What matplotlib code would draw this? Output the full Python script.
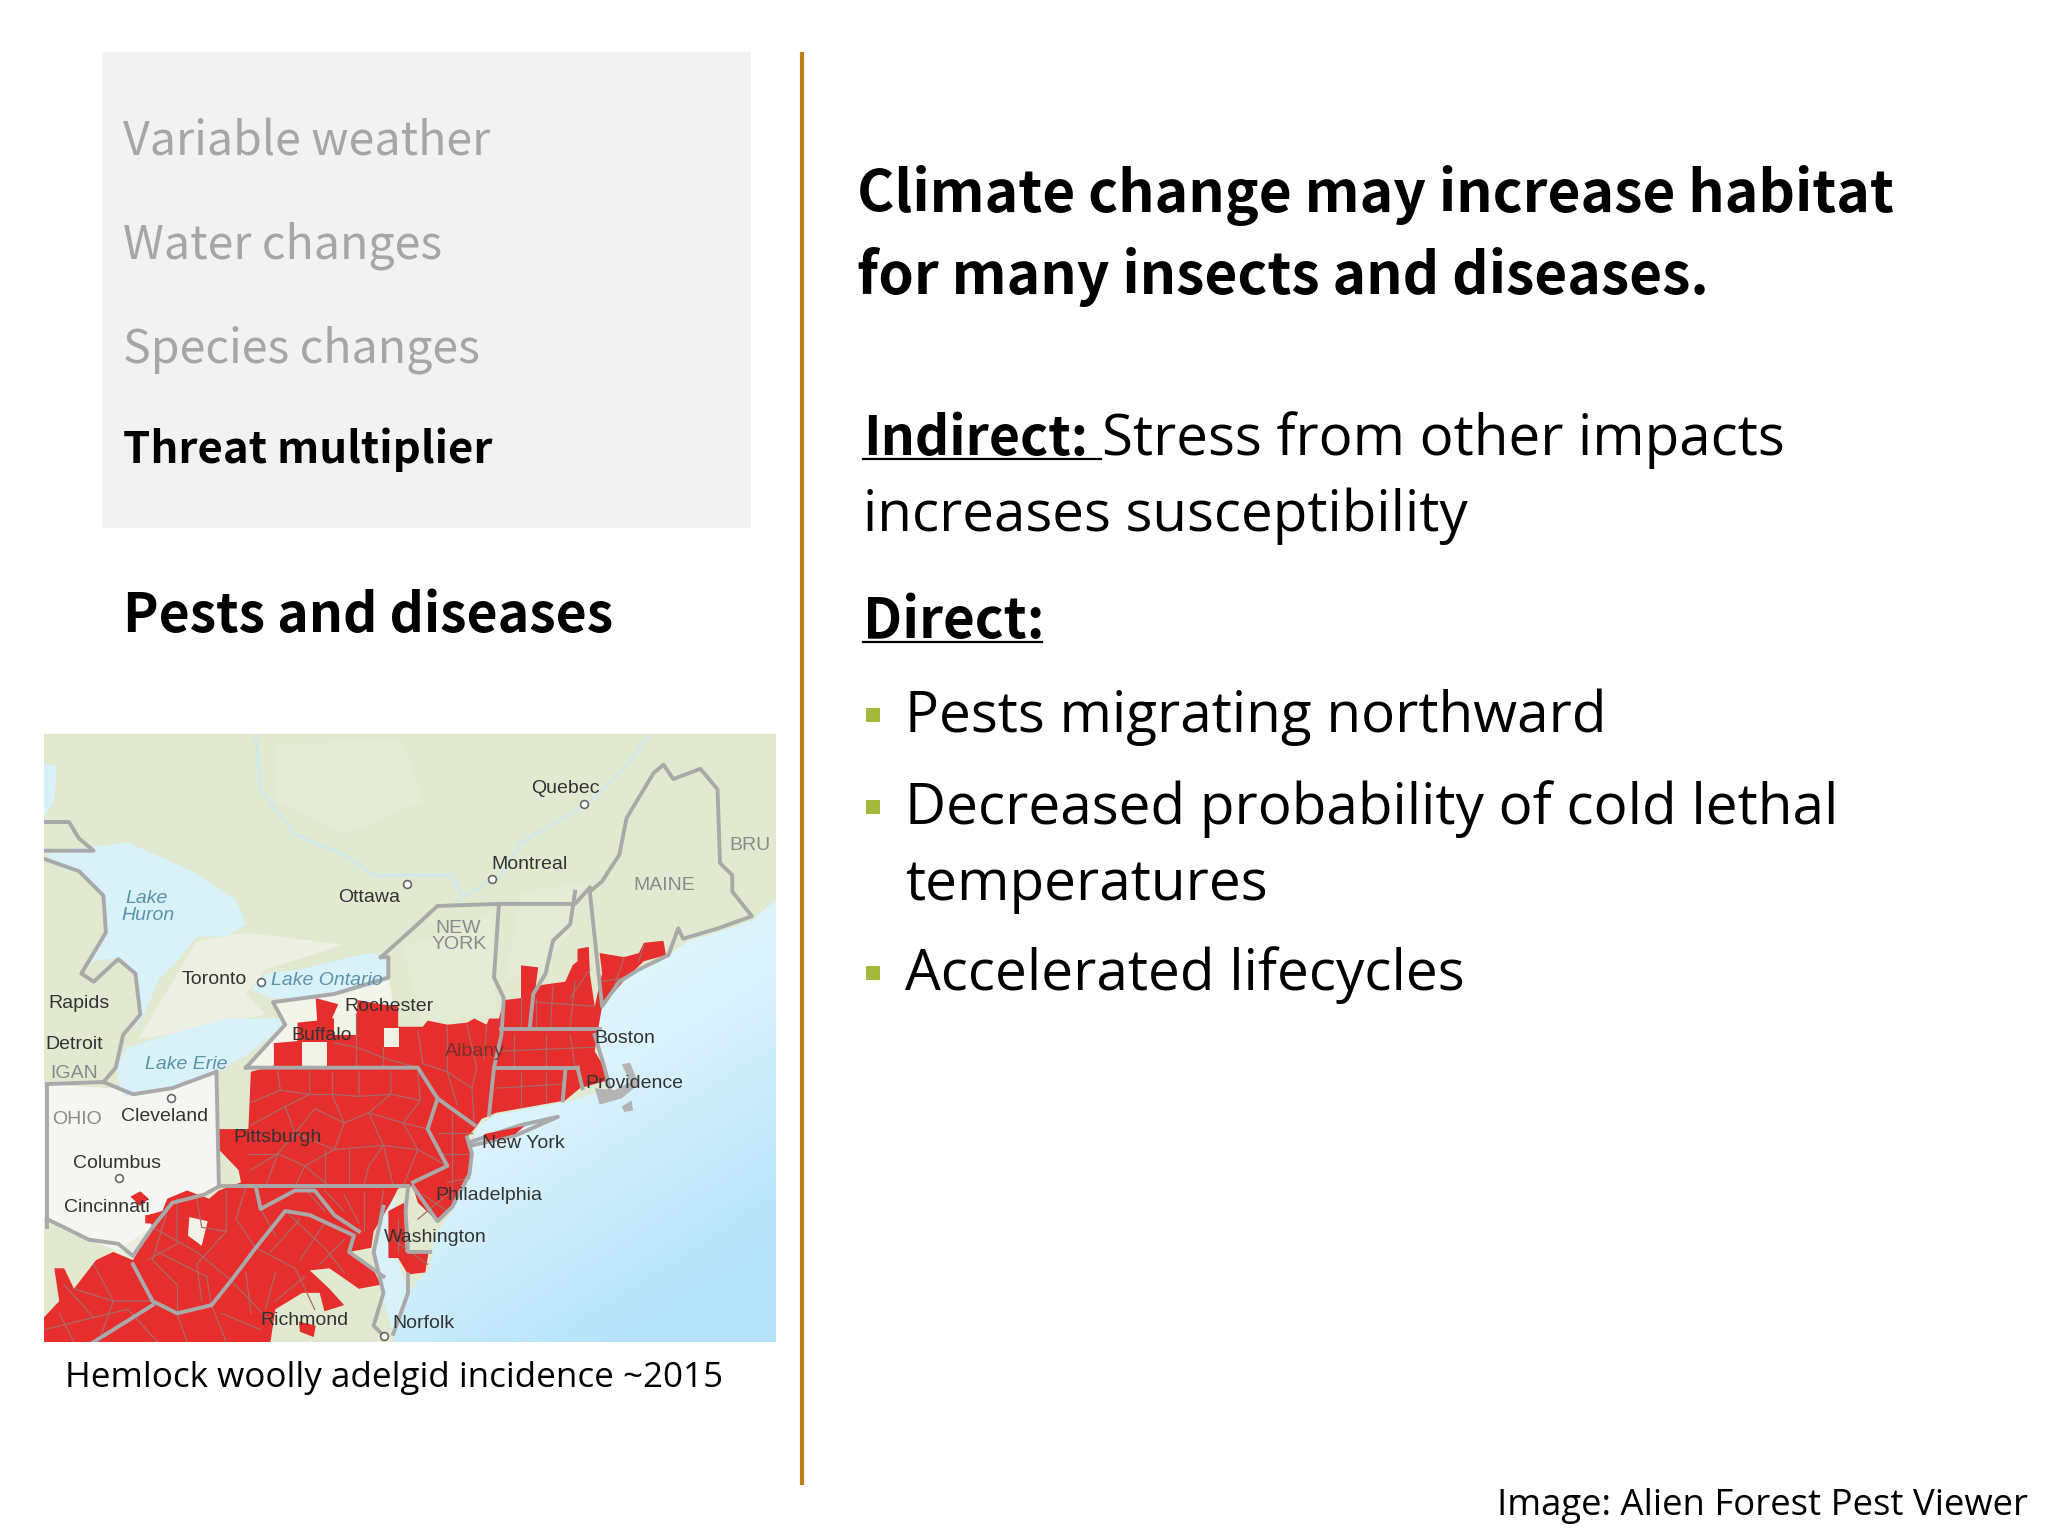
import numpy as np
import matplotlib
matplotlib.use("Agg")
import matplotlib.pyplot as plt
from matplotlib.colors import LinearSegmentedColormap
from matplotlib.patches import Polygon, Rectangle

BODY_FONT = "Open Sans"
BOLD_FONT = "Noto Sans CJK JP"
PANEL_FONT = "Noto Sans CJK JP"
MAP_FONT = "Liberation Sans"

# left panel text: label, baseline
panel_labels = ["Variable weather", "Water changes", "Species changes", "Threat multiplier"]
panel_baselines = [155, 259, 362, 463]
panel_colors = ["#a6a6a6", "#a6a6a6", "#a6a6a6", "#000000"]
bullet_baselines = [732, 824, 990]
bullet_centres = [715, 807, 973]
bullet_labels = ["Pests migrating northward", "Decreased probability of cold lethal", "Accelerated lifecycles"]

# map shapes, in pixels of the zoomed map crop
ocean = [(1519, 440), (1470, 490), (1400, 520), (1340, 540), (1300, 575), (1240, 605), (1190, 650), (1165, 700),
         (1150, 770), (1170, 850), (1180, 900), (1090, 935), (950, 965), (915, 990), (900, 1030), (900, 1060),
         (895, 1120), (860, 1200), (825, 1260), (815, 1340), (770, 1400), (740, 1520), (1519, 1520)]
chesapeake = [(720, 1190), (745, 1170), (735, 1260), (770, 1400), (740, 1500), (715, 1400), (700, 1300)]
huron = [(40, 320), (130, 310), (200, 300), (330, 370), (420, 440), (440, 500), (400, 530), (340, 530), (300, 590),
         (260, 640), (240, 700), (215, 760), (222, 700), (215, 620), (185, 580), (130, 590), (105, 620), (155, 520),
         (150, 430), (110, 380), (40, 350)]
michigan_lake = [(29, 110), (55, 110), (50, 200), (29, 240)]
ontario_lake = [(490, 680), (450, 660), (480, 620), (550, 610), (650, 580), (700, 570), (725, 590), (725, 640),
                (640, 670), (560, 680)]
erie = [(175, 850), (200, 800), (280, 770), (400, 730), (510, 730), (520, 745), (440, 820), (380, 860), (280, 905),
        (190, 920)]
long_island = [(900, 1030), (1000, 990), (1075, 970), (990, 1015), (900, 1040)]
pale_land_1 = [(160, 900), (380, 860), (385, 1140), (355, 1160), (250, 1240), (210, 1310), (120, 1270), (29, 1220), (29, 890)]
pale_land_2 = [(260, 700), (340, 540), (440, 520), (640, 550), (480, 610), (440, 670), (480, 720), (280, 770), (220, 780)]
pale_land_3 = [(440, 850), (520, 745), (495, 695), (620, 670), (730, 630), (750, 760), (790, 850)]
pale_land_4 = [(160, 1310), (250, 1240), (240, 1400), (150, 1330)]
light_patches = [[(500, 60), (760, 50), (800, 200), (640, 280), (500, 200)],
                 [(1000, 420), (1130, 400), (1100, 520), (1040, 600), (970, 640)],
                 [(760, 560), (940, 470), (950, 720), (800, 740)]]
st_lawrence = [(870, 440), (960, 380), (1000, 300), (1130, 210), (1210, 120), (1260, 40)]
ottawa_river = [(460, 40), (470, 170), (540, 280), (640, 330), (700, 380), (860, 380), (880, 430)]

red_main = [(497, 845), (497, 790), (545, 785), (545, 740), (585, 735), (582, 680), (628, 695), (615, 730), (665, 720),
            (668, 685), (715, 695), (750, 700), (750, 750), (800, 750), (810, 735), (850, 745), (890, 740), (905, 730),
            (930, 745), (935, 730), (955, 730), (965, 685), (1000, 680), (1000, 600), (1035, 605), (1030, 650),
            (1090, 640), (1105, 600), (1115, 590), (1115, 560), (1138, 555), (1140, 620), (1150, 700), (1165, 620),
            (1160, 570), (1210, 580), (1240, 570), (1250, 545), (1290, 540), (1295, 575), (1250, 590), (1215, 630),
            (1165, 700), (1155, 770), (1150, 810), (1175, 860), (1180, 880), (1120, 900), (1090, 930), (950, 960),
            (920, 975), (905, 1000), (890, 1020), (900, 1060), (895, 1110), (860, 1190), (830, 1225), (790, 1180),
            (780, 1140), (750, 1145), (735, 1180), (700, 1250), (695, 1290), (650, 1300), (700, 1345), (715, 1380),
            (670, 1390), (610, 1340), (570, 1345), (610, 1390), (640, 1430), (600, 1445), (590, 1400), (555, 1400),
            (500, 1440), (490, 1520), (29, 1520), (29, 1460), (60, 1420), (50, 1340), (70, 1340), (90, 1390),
            (135, 1320), (170, 1300), (210, 1320), (250, 1240), (240, 1210), (270, 1200), (280, 1170), (320, 1150),
            (365, 1170), (385, 1150), (430, 1130), (425, 1100), (385, 1050), (385, 1000), (445, 1000), (450, 860)]
red_extra = [[(205, 1165), (225, 1152), (242, 1170), (225, 1188)],
             [(235, 1210), (270, 1210), (265, 1232), (235, 1230)],
             [(548, 1470), (582, 1480), (578, 1508), (550, 1495)],
             [(730, 1200), (762, 1180), (765, 1300), (812, 1300), (805, 1350), (770, 1355), (750, 1315), (730, 1315)]]
long_island_red = [(925, 1012), (1008, 992), (988, 1012), (930, 1030)]
land_holes = [[(555, 788), (605, 788), (605, 850), (555, 850)],
              [(620, 722), (665, 722), (665, 770), (620, 770)],
              [(722, 752), (752, 752), (752, 800), (722, 800)],
              [(325, 1215), (362, 1225), (350, 1285), (322, 1260)]]
cape_cod = [(1150, 900), (1190, 905), (1222, 885), (1205, 842), (1222, 838), (1240, 890), (1205, 925), (1160, 940)]
nantucket = [(1205, 945), (1225, 930), (1228, 955), (1210, 958)]

state_lines = [
    [(1140, 420), (1165, 395), (1200, 330), (1215, 240), (1270, 130), (1290, 110), (1310, 145), (1365, 120),
     (1400, 170), (1405, 350), (1430, 380), (1430, 420), (1470, 480), (1400, 510), (1330, 535), (1320, 510),
     (1300, 575), (1240, 610), (1200, 640), (1165, 700), (1140, 420)],
    [(1110, 420), (1100, 500), (1065, 540), (1050, 620), (1025, 670), (1018, 750)],
    [(715, 580), (780, 510), (830, 455), (955, 450), (1110, 450), (1140, 410)],
    [(955, 450), (945, 630), (965, 680), (960, 770), (945, 850), (935, 965)],
    [(960, 755), (1160, 755)], [(945, 850), (1115, 850)], [(1090, 860), (1085, 930)], [(1115, 850), (1125, 900)],
    [(440, 850), (790, 850), (830, 925), (905, 990)],
    [(830, 925), (810, 1000), (850, 1090), (780, 1130)],
    [(385, 1140), (770, 1140)], [(380, 860), (385, 1140)],
    [(440, 850), (520, 745), (495, 690), (620, 670), (730, 630), (730, 580), (715, 580)],
    [(35, 890), (35, 1240)], [(35, 890), (150, 885), (210, 915), (290, 900), (380, 860)],
    [(385, 1140), (355, 1160), (290, 1180), (250, 1240), (210, 1310), (180, 1280), (120, 1270), (70, 1240), (35, 1220)],
    [(210, 1330), (250, 1420), (300, 1450), (370, 1430), (410, 1370), (460, 1290), (520, 1200), (570, 1210),
     (660, 1260), (650, 1300), (720, 1360)],
    [(460, 1140), (470, 1195), (540, 1150), (580, 1150), (620, 1210), (670, 1250)],
    [(770, 1140), (765, 1200), (770, 1300), (815, 1300)],
    [(29, 250), (80, 250), (100, 290), (130, 320), (29, 320)],
    [(29, 340), (100, 370), (150, 430), (155, 520), (105, 620), (130, 640), (180, 585), (215, 620), (225, 720),
     (190, 770), (175, 850), (150, 885)],
    [(130, 1520), (250, 1430)],
    long_island,
    [(1150, 770), (1170, 850), (1180, 900)],
    [(780, 1140), (830, 1225), (860, 1190), (895, 1110), (900, 1060), (890, 1020)],
    [(720, 1190), (700, 1300), (720, 1400), (700, 1480), (725, 1510)],
    [(770, 1355), (770, 1400), (740, 1500)],
]
county_lines = [
    [(505, 860), (510, 905), (450, 935)], [(570, 860), (570, 915), (510, 905)], [(615, 860), (615, 915), (570, 915)],
    [(670, 860), (670, 920), (615, 915)], [(735, 860), (735, 915), (670, 920)], [(790, 860), (795, 930), (735, 915)],
    [(450, 990), (520, 945), (570, 915)], [(520, 945), (540, 1010), (505, 1060), (480, 1140)],
    [(580, 950), (540, 1010)], [(580, 950), (640, 985), (615, 915)], [(640, 985), (690, 960), (735, 915)],
    [(690, 960), (760, 985), (795, 930)], [(760, 985), (810, 1000)],
    [(640, 985), (620, 1050), (560, 1090), (540, 1140)], [(690, 960), (720, 1040), (690, 1090), (680, 1140)],
    [(620, 1050), (720, 1040), (790, 1050), (850, 1090)], [(445, 1060), (505, 1060)], [(560, 1090), (610, 1140)],
    [(790, 1050), (760, 1140)], [(505, 1060), (560, 1090)], [(450, 1100), (505, 1060)], [(600, 1050), (600, 1140)],
    [(650, 1050), (650, 1140)], [(720, 1040), (740, 1140)], [(540, 1010), (620, 1050)], [(760, 985), (790, 1050)],
    [(620, 790), (665, 800), (730, 830), (790, 850)], [(665, 720), (665, 850)], [(720, 800), (720, 850)],
    [(790, 760), (800, 840)], [(850, 750), (850, 860), (900, 900), (905, 990)], [(800, 840), (850, 860)],
    [(890, 745), (910, 850), (900, 900)], [(930, 745), (925, 830)], [(850, 860), (870, 940)],
    [(1030, 680), (1030, 750)], [(1000, 680), (1000, 750)], [(1065, 650), (1060, 750)], [(1110, 640), (1100, 750)],
    [(1030, 690), (1150, 700)], [(985, 770), (985, 850)], [(1050, 770), (1050, 850)], [(1100, 770), (1110, 850)],
    [(950, 810), (1150, 800)], [(1000, 860), (1000, 945)], [(1050, 860), (1050, 935)], [(950, 900), (1085, 890)],
    [(1210, 580), (1190, 650)], [(1160, 640), (1215, 630)], [(1250, 550), (1240, 590)], [(1140, 610), (1100, 680)],
    [(830, 1010), (900, 1010)], [(830, 1060), (895, 1060)], [(860, 960), (860, 1190)], [(850, 1130), (895, 1120)],
    [(400, 1150), (400, 1250), (340, 1330)], [(300, 1170), (300, 1280), (240, 1320)],
    [(250, 1240), (340, 1300), (410, 1370)], [(460, 1290), (540, 1340), (580, 1440)],
    [(520, 1200), (600, 1290), (640, 1350)], [(340, 1330), (350, 1420)], [(440, 1140), (420, 1220), (460, 1290)],
    [(600, 1150), (640, 1200)], [(680, 1150), (680, 1250)], [(130, 1330), (170, 1420), (140, 1520)],
    [(90, 1390), (170, 1420), (250, 1420)], [(60, 1450), (90, 1520)], [(300, 1450), (320, 1520)],
    [(370, 1430), (400, 1520)], [(410, 1370), (490, 1470)], [(500, 1350), (480, 1440)], [(560, 1360), (500, 1420)],
    [(280, 1200), (250, 1320), (300, 1380)], [(340, 1170), (350, 1240), (400, 1250)], [(260, 1300), (360, 1360)],
    [(300, 1380), (300, 1450)], [(360, 1360), (370, 1430)], [(470, 1195), (500, 1260)], [(550, 1220), (490, 1300)],
    [(600, 1230), (550, 1320)], [(640, 1270), (590, 1330)], [(440, 1350), (450, 1450)], [(390, 1450), (470, 1490)],
    [(200, 1440), (260, 1520)], [(70, 1380), (130, 1460)], [(29, 1490), (130, 1460), (200, 1440)],
    [(640, 1160), (670, 1230)], [(560, 1145), (600, 1200)], [(720, 1150), (710, 1230)],
    [(800, 1160), (850, 1200)], [(790, 1220), (850, 1160)], [(750, 1220), (750, 1300)], [(740, 1270), (810, 1330)],
]

# place names: text, x, baseline, colour, size, italic
place_labels = [
    ("Quebec", 1020, 180, "#333333", 14, False), ("Montreal", 940, 365, "#333333", 14, False),
    ("Ottawa", 628, 445, "#333333", 14, False), ("Toronto", 310, 645, "#333333", 14, False),
    ("Rapids", 38, 705, "#333333", 14, False), ("Detroit", 32, 805, "#333333", 14, False),
    ("IGAN", 42, 875, "#8a8a8a", 14, False), ("OHIO", 45, 988, "#8a8a8a", 14, False),
    ("Cleveland", 186, 980, "#333333", 14, False), ("Columbus", 88, 1095, "#333333", 14, False),
    ("Cincinnati", 70, 1202, "#333333", 14, False), ("Rochester", 640, 712, "#333333", 14, False),
    ("Buffalo", 532, 782, "#333333", 14, False), ("Albany", 845, 822, "#7a3030", 14, False),
    ("Boston", 1150, 790, "#333333", 14, False), ("Providence", 1130, 900, "#333333", 14, False),
    ("New York", 920, 1045, "#333333", 14, False), ("Pittsburgh", 415, 1032, "#333333", 14, False),
    ("Philadelphia", 825, 1172, "#333333", 14, False), ("Washington", 720, 1275, "#333333", 14, False),
    ("Richmond", 470, 1478, "#333333", 14, False), ("Norfolk", 738, 1486, "#333333", 14, False),
    ("MAINE", 1228, 415, "#8a8a8a", 14, False), ("BRU", 1425, 318, "#8a8a8a", 14, False),
    ("NEW", 825, 522, "#8a8a8a", 14, False), ("YORK", 818, 560, "#8a8a8a", 14, False),
    ("Lake", 195, 448, "#5b93a8", 14, True), ("Huron", 187, 490, "#5b93a8", 14, True),
    ("Lake Ontario", 492, 648, "#5b93a8", 14, True), ("Lake Erie", 235, 853, "#5b93a8", 14, True),
]
city_dots_x = [1128, 940, 767, 470, 288, 182, 722]
city_dots_y = [205, 388, 402, 640, 925, 1120, 1505]

fig = plt.figure(figsize=(20.48, 15.36), dpi=100, facecolor="white")
ax = fig.add_axes([0, 0, 1, 1])
ax.set_xlim(0, 2048)
ax.set_ylim(1536, 0)
ax.axis("off")

ax.add_patch(Rectangle((102, 52), 649, 476, facecolor="#f2f2f2", edgecolor="none"))
ax.plot([802, 802], [52, 1485], color="#c07f17", lw=3.0, solid_capstyle="butt")

for label, base, col in zip(panel_labels, panel_baselines, panel_colors):
    weight = "bold" if col == "#000000" else "normal"
    ax.text(123, base, label, fontsize=33.5 if weight == "normal" else 31.5, color=col, family=PANEL_FONT,
            weight=weight, va="baseline")
ax.text(123, 632, "Pests and diseases", fontsize=38.5, family=BOLD_FONT, weight="bold", va="baseline")

ax.text(857, 212, "Climate change may increase habitat", fontsize=41, family=BOLD_FONT, weight="bold", va="baseline")
ax.text(857, 294, "for many insects and diseases.", fontsize=41, family=BOLD_FONT, weight="bold", va="baseline")

ax.text(863, 455, "Indirect:", fontsize=38.5, family=BOLD_FONT, weight="bold", va="baseline")
ax.plot([863, 1101], [459, 459], color="black", lw=1.6)
ax.text(1102, 455, "Stress from other impacts", fontsize=40.7, family=BODY_FONT, va="baseline")
ax.text(863, 531, "increases susceptibility", fontsize=40.7, family=BODY_FONT, va="baseline")
ax.text(863, 638, "Direct:", fontsize=39.5, family=BOLD_FONT, weight="bold", va="baseline")
ax.plot([863, 1042], [642, 642], color="black", lw=1.6)

for label, base, centre in zip(bullet_labels, bullet_baselines, bullet_centres):
    ax.add_patch(Rectangle((866, centre - 7), 14, 14, facecolor="#a2b93b", edgecolor="none"))
    ax.text(905, base, label, fontsize=40.8, family=BODY_FONT, va="baseline")
ax.text(905, 900, "temperatures", fontsize=40.8, family=BODY_FONT, va="baseline")

ax.text(65, 1387, "Hemlock woolly adelgid incidence ~2015", fontsize=25.2, family=BODY_FONT, va="baseline")
ax.text(2028, 1515, "Image: Alien Forest Pest Viewer", fontsize=26.3, family=BODY_FONT, va="baseline", ha="right")

# map
m = fig.add_axes([44 / 2048, 1 - 1342 / 1536, (776 - 44) / 2048, (1342 - 734) / 1536])
m.set_xlim(29, 1519)
m.set_ylim(1520, 35)
m.axis("off")
m.add_patch(Rectangle((29, 35), 1490, 1485, facecolor="#e1ead0", edgecolor="none", zorder=0))
for shape in light_patches:
    m.add_patch(Polygon(shape, closed=True, facecolor="#e5ecd6", edgecolor="none", zorder=0.5))
for shape, col in [(pale_land_1, "#f5f5f1"), (pale_land_2, "#edefe2"), (pale_land_3, "#f3f4ea"), (pale_land_4, "#e9eedf")]:
    m.add_patch(Polygon(shape, closed=True, facecolor=col, edgecolor="none", zorder=1))

cmap = LinearSegmentedColormap.from_list("sea", ["#e6f7fd", "#daf3fc", "#b4e3fa"])
gx, gy = np.meshgrid(np.linspace(0, 1, 200), np.linspace(0, 1, 200))
sea_img = m.imshow(gx + 1.3 * gy, extent=(29, 1519, 1520, 35), cmap=cmap, vmin=0.9, vmax=2.1, aspect="auto", zorder=2)
sea_patch = Polygon(ocean, closed=True, transform=m.transData, facecolor="none", edgecolor="none")
m.add_patch(sea_patch)
sea_img.set_clip_path(sea_patch)
m.set_xlim(29, 1519)
m.set_ylim(1520, 35)

for shape in [huron, michigan_lake, ontario_lake, erie, chesapeake]:
    m.add_patch(Polygon(shape, closed=True, facecolor="#d9f1f9", edgecolor="none", zorder=3))
for river in [st_lawrence, ottawa_river]:
    xs, ys = zip(*river)
    m.plot(xs, ys, color="#cfe8ee", lw=2.0, zorder=3)

m.add_patch(Polygon(red_main, closed=True, facecolor="#e62e2d", edgecolor="none", zorder=4))
for shape in red_extra:
    m.add_patch(Polygon(shape, closed=True, facecolor="#e62e2d", edgecolor="none", zorder=4))
for shape in land_holes:
    m.add_patch(Polygon(shape, closed=True, facecolor="#f1f2e6", edgecolor="none", zorder=4))
for line in county_lines:
    xs, ys = zip(*line)
    m.plot(xs, ys, color="#a86a6a", lw=0.9, zorder=5)
for line in state_lines:
    xs, ys = zip(*line)
    m.plot(xs, ys, color="#a9a9a9", lw=2.8, zorder=6, solid_joinstyle="round")
for shape in [cape_cod, nantucket]:
    m.add_patch(Polygon(shape, closed=True, facecolor="#b4b4b4", edgecolor="none", zorder=6))
m.add_patch(Polygon(long_island_red, closed=True, facecolor="#e62e2d", edgecolor="none", zorder=7))

m.scatter(city_dots_x, city_dots_y, s=32, facecolor="white", edgecolor="#666666", lw=1.2, zorder=7)
for label, x, y, col, size, ital in place_labels:
    m.text(x, y, label, color=col, fontsize=size, family=MAP_FONT, style="italic" if ital else "normal",
           va="baseline", zorder=8, clip_on=True)

fig.savefig("out.png", dpi=100)
